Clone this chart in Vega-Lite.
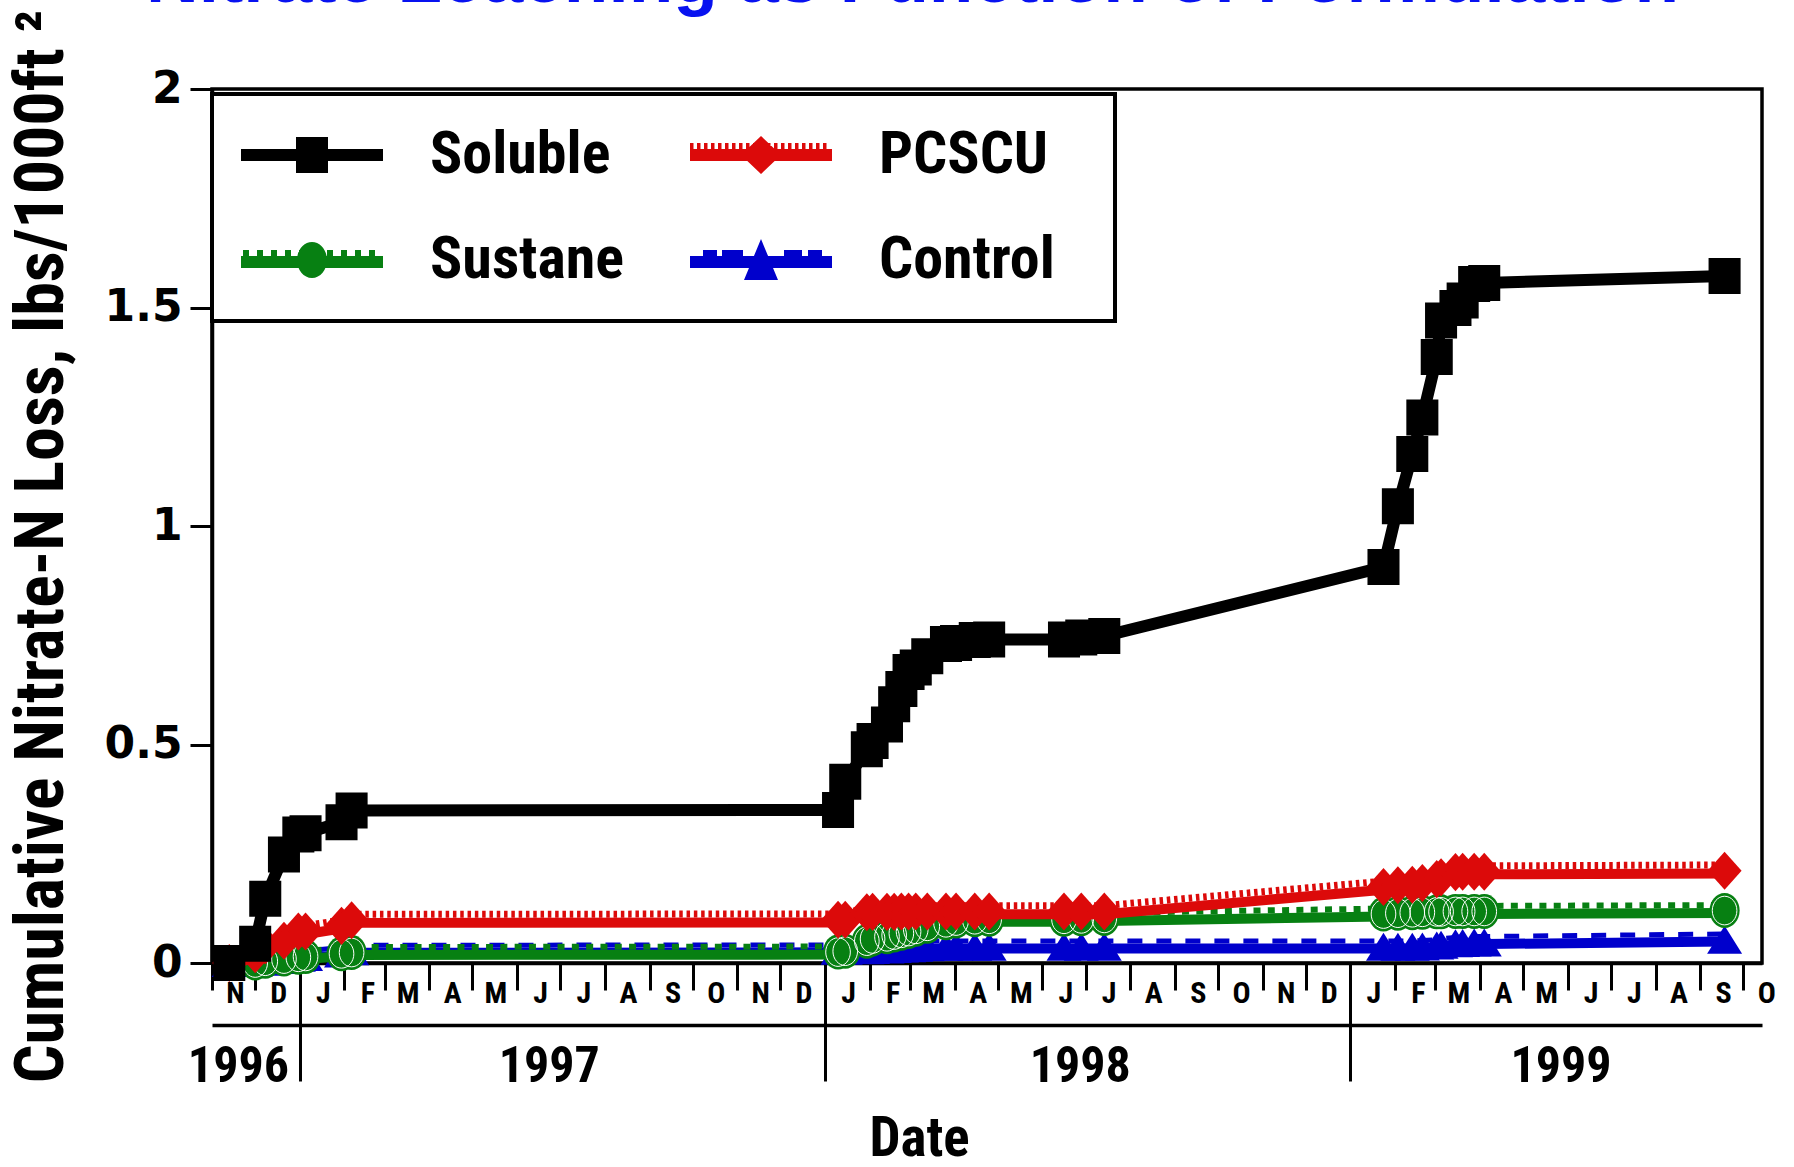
{
  "$schema": "https://vega.github.io/schema/vega-lite/v6.json",
  "width": 1550,
  "height": 874,
  "autosize": {"type": "none"},
  "padding": {"left": 212, "top": 89, "right": 32, "bottom": 204},
  "background": "white",
  "config": {
    "view": {"stroke": "black", "strokeWidth": 3.5},
    "axis": {"grid": false, "domainColor": "black", "tickColor": "black", "labelColor": "black", "titleColor": "black"},
    "legend": {"strokeWidth": 4}
  },
  "data": {"values": [
    {"date":"1996-11-13","series":"Soluble","value":0},
    {"date":"1996-12-01","series":"Soluble","value":0.044},
    {"date":"1996-12-08","series":"Soluble","value":0.147},
    {"date":"1996-12-21","series":"Soluble","value":0.248},
    {"date":"1996-12-31","series":"Soluble","value":0.294},
    {"date":"1997-01-05","series":"Soluble","value":0.297},
    {"date":"1997-01-30","series":"Soluble","value":0.322},
    {"date":"1997-02-06","series":"Soluble","value":0.349},
    {"date":"1998-01-10","series":"Soluble","value":0.35},
    {"date":"1998-01-15","series":"Soluble","value":0.415},
    {"date":"1998-01-30","series":"Soluble","value":0.489},
    {"date":"1998-02-03","series":"Soluble","value":0.508},
    {"date":"1998-02-13","series":"Soluble","value":0.546},
    {"date":"1998-02-18","series":"Soluble","value":0.592},
    {"date":"1998-02-23","series":"Soluble","value":0.627},
    {"date":"1998-02-28","series":"Soluble","value":0.666},
    {"date":"1998-03-05","series":"Soluble","value":0.676},
    {"date":"1998-03-13","series":"Soluble","value":0.702},
    {"date":"1998-03-26","series":"Soluble","value":0.73},
    {"date":"1998-04-02","series":"Soluble","value":0.732},
    {"date":"1998-04-15","series":"Soluble","value":0.739},
    {"date":"1998-04-25","series":"Soluble","value":0.74},
    {"date":"1998-06-16","series":"Soluble","value":0.74},
    {"date":"1998-06-28","series":"Soluble","value":0.745},
    {"date":"1998-07-14","series":"Soluble","value":0.748},
    {"date":"1999-01-24","series":"Soluble","value":0.906},
    {"date":"1999-02-03","series":"Soluble","value":1.045},
    {"date":"1999-02-13","series":"Soluble","value":1.165},
    {"date":"1999-02-20","series":"Soluble","value":1.248},
    {"date":"1999-03-02","series":"Soluble","value":1.387},
    {"date":"1999-03-05","series":"Soluble","value":1.47},
    {"date":"1999-03-15","series":"Soluble","value":1.499},
    {"date":"1999-03-20","series":"Soluble","value":1.516},
    {"date":"1999-03-28","series":"Soluble","value":1.554},
    {"date":"1999-04-04","series":"Soluble","value":1.556},
    {"date":"1999-09-18","series":"Soluble","value":1.572},
    {"date":"1996-11-13","series":"PCSCU","value":0},
    {"date":"1996-12-01","series":"PCSCU","value":0.02},
    {"date":"1996-12-08","series":"PCSCU","value":0.04},
    {"date":"1996-12-21","series":"PCSCU","value":0.051},
    {"date":"1996-12-31","series":"PCSCU","value":0.072},
    {"date":"1997-01-05","series":"PCSCU","value":0.072},
    {"date":"1997-01-30","series":"PCSCU","value":0.085},
    {"date":"1997-02-06","series":"PCSCU","value":0.098},
    {"date":"1998-01-10","series":"PCSCU","value":0.099},
    {"date":"1998-01-15","series":"PCSCU","value":0.099},
    {"date":"1998-01-30","series":"PCSCU","value":0.116},
    {"date":"1998-02-03","series":"PCSCU","value":0.117},
    {"date":"1998-02-13","series":"PCSCU","value":0.117},
    {"date":"1998-02-18","series":"PCSCU","value":0.117},
    {"date":"1998-02-23","series":"PCSCU","value":0.118},
    {"date":"1998-02-28","series":"PCSCU","value":0.118},
    {"date":"1998-03-05","series":"PCSCU","value":0.118},
    {"date":"1998-03-13","series":"PCSCU","value":0.118},
    {"date":"1998-03-26","series":"PCSCU","value":0.118},
    {"date":"1998-04-02","series":"PCSCU","value":0.118},
    {"date":"1998-04-15","series":"PCSCU","value":0.118},
    {"date":"1998-04-25","series":"PCSCU","value":0.118},
    {"date":"1998-06-16","series":"PCSCU","value":0.118},
    {"date":"1998-06-28","series":"PCSCU","value":0.118},
    {"date":"1998-07-14","series":"PCSCU","value":0.118},
    {"date":"1999-01-24","series":"PCSCU","value":0.174},
    {"date":"1999-02-03","series":"PCSCU","value":0.178},
    {"date":"1999-02-13","series":"PCSCU","value":0.179},
    {"date":"1999-02-20","series":"PCSCU","value":0.183},
    {"date":"1999-03-02","series":"PCSCU","value":0.192},
    {"date":"1999-03-05","series":"PCSCU","value":0.196},
    {"date":"1999-03-15","series":"PCSCU","value":0.208},
    {"date":"1999-03-20","series":"PCSCU","value":0.209},
    {"date":"1999-03-28","series":"PCSCU","value":0.209},
    {"date":"1999-04-04","series":"PCSCU","value":0.209},
    {"date":"1999-09-18","series":"PCSCU","value":0.211},
    {"date":"1996-11-13","series":"Sustane","value":0},
    {"date":"1996-12-01","series":"Sustane","value":0},
    {"date":"1996-12-08","series":"Sustane","value":0.004},
    {"date":"1996-12-21","series":"Sustane","value":0.009},
    {"date":"1996-12-31","series":"Sustane","value":0.013},
    {"date":"1997-01-05","series":"Sustane","value":0.015},
    {"date":"1997-01-30","series":"Sustane","value":0.021},
    {"date":"1997-02-06","series":"Sustane","value":0.024},
    {"date":"1998-01-10","series":"Sustane","value":0.025},
    {"date":"1998-01-15","series":"Sustane","value":0.027},
    {"date":"1998-01-30","series":"Sustane","value":0.05},
    {"date":"1998-02-03","series":"Sustane","value":0.055},
    {"date":"1998-02-13","series":"Sustane","value":0.06},
    {"date":"1998-02-18","series":"Sustane","value":0.064},
    {"date":"1998-02-23","series":"Sustane","value":0.068},
    {"date":"1998-02-28","series":"Sustane","value":0.072},
    {"date":"1998-03-05","series":"Sustane","value":0.077},
    {"date":"1998-03-13","series":"Sustane","value":0.084},
    {"date":"1998-03-26","series":"Sustane","value":0.092},
    {"date":"1998-04-02","series":"Sustane","value":0.096},
    {"date":"1998-04-15","series":"Sustane","value":0.099},
    {"date":"1998-04-25","series":"Sustane","value":0.1},
    {"date":"1998-06-16","series":"Sustane","value":0.1},
    {"date":"1998-06-28","series":"Sustane","value":0.101},
    {"date":"1998-07-14","series":"Sustane","value":0.102},
    {"date":"1999-01-24","series":"Sustane","value":0.112},
    {"date":"1999-02-03","series":"Sustane","value":0.114},
    {"date":"1999-02-13","series":"Sustane","value":0.115},
    {"date":"1999-02-20","series":"Sustane","value":0.116},
    {"date":"1999-03-02","series":"Sustane","value":0.117},
    {"date":"1999-03-05","series":"Sustane","value":0.117},
    {"date":"1999-03-15","series":"Sustane","value":0.118},
    {"date":"1999-03-20","series":"Sustane","value":0.118},
    {"date":"1999-03-28","series":"Sustane","value":0.118},
    {"date":"1999-04-04","series":"Sustane","value":0.118},
    {"date":"1999-09-18","series":"Sustane","value":0.12},
    {"date":"1996-11-13","series":"Control","value":0},
    {"date":"1996-12-01","series":"Control","value":0},
    {"date":"1996-12-08","series":"Control","value":0.003},
    {"date":"1996-12-21","series":"Control","value":0.007},
    {"date":"1996-12-31","series":"Control","value":0.012},
    {"date":"1997-01-05","series":"Control","value":0.014},
    {"date":"1997-01-30","series":"Control","value":0.022},
    {"date":"1997-02-06","series":"Control","value":0.027},
    {"date":"1998-01-10","series":"Control","value":0.028},
    {"date":"1998-01-15","series":"Control","value":0.028},
    {"date":"1998-01-30","series":"Control","value":0.029},
    {"date":"1998-02-03","series":"Control","value":0.03},
    {"date":"1998-02-13","series":"Control","value":0.031},
    {"date":"1998-02-18","series":"Control","value":0.032},
    {"date":"1998-02-23","series":"Control","value":0.033},
    {"date":"1998-02-28","series":"Control","value":0.034},
    {"date":"1998-03-05","series":"Control","value":0.035},
    {"date":"1998-03-13","series":"Control","value":0.036},
    {"date":"1998-03-26","series":"Control","value":0.037},
    {"date":"1998-04-02","series":"Control","value":0.037},
    {"date":"1998-04-15","series":"Control","value":0.037},
    {"date":"1998-04-25","series":"Control","value":0.037},
    {"date":"1998-06-16","series":"Control","value":0.037},
    {"date":"1998-06-28","series":"Control","value":0.037},
    {"date":"1998-07-14","series":"Control","value":0.037},
    {"date":"1999-01-24","series":"Control","value":0.037},
    {"date":"1999-02-03","series":"Control","value":0.037},
    {"date":"1999-02-13","series":"Control","value":0.037},
    {"date":"1999-02-20","series":"Control","value":0.038},
    {"date":"1999-03-02","series":"Control","value":0.04},
    {"date":"1999-03-05","series":"Control","value":0.042},
    {"date":"1999-03-15","series":"Control","value":0.045},
    {"date":"1999-03-20","series":"Control","value":0.046},
    {"date":"1999-03-28","series":"Control","value":0.047},
    {"date":"1999-04-04","series":"Control","value":0.047},
    {"date":"1999-09-18","series":"Control","value":0.053}
  ]},
  "resolve": {"axis": {"x": "independent"}},
  "encoding": {
    "x": {"field": "date", "type": "temporal", "scale": {"type": "utc", "domain": [{"year": 1996, "month": 11, "date": 1, "utc": true}, {"year": 1999, "month": 10, "date": 14, "utc": true}]}, "axis": null},
    "y": {"field": "value", "type": "quantitative", "scale": {"domain": [0, 2]}}
  },
  "layer": [
    {
      "transform": [{"filter": "datum.series === 'Control'"}],
      "mark": {"type": "line", "color": "#0000cc", "strokeWidth": 10, "yOffset": 1.6},
      "encoding": {
        "x": {"field": "date", "type": "temporal", "scale": {"type": "utc", "domain": [{"year": 1996, "month": 11, "date": 1, "utc": true}, {"year": 1999, "month": 10, "date": 14, "utc": true}]},
          "axis": {"orient": "bottom", "tickCount": {"interval": "month", "step": 1}, "tickSize": 27, "tickWidth": 3, "domainWidth": 3.5, "labelExpr": "substring(utcFormat(datum.value, '%b'), 0, 1)", "labelOffset": 23, "labelPadding": -12, "labelFont": "Roboto Condensed, DejaVu Sans Condensed, sans-serif", "labelFontSize": 30, "labelFontWeight": "bold", "labelFlush": false, "labelOverlap": false, "title": "Date", "titleFont": "Roboto Condensed, DejaVu Sans Condensed, sans-serif", "titleFontSize": 55, "titleFontWeight": "bold", "titleX": 707, "titleY": 192, "titleBaseline": "alphabetic", "titleAlign": "center"}},
        "y": {"field": "value", "type": "quantitative", "scale": {"domain": [0, 2]},
          "axis": {"values": [0, 0.5, 1, 1.5, 2], "format": ".1~f", "tickSize": 22, "tickWidth": 3, "domainWidth": 3.5, "labelFont": "DejaVu Sans", "labelFontSize": 44, "labelFontWeight": "bold", "labelPadding": 8, "title": "Cumulative Nitrate-N Loss, lbs/1000ft ²", "titleFont": "Roboto Condensed, DejaVu Sans Condensed, sans-serif", "titleFontSize": 68, "titleFontWeight": "bold", "titleX": -150, "titleY": 457, "titleAngle": 270, "titleAlign": "center", "titleBaseline": "alphabetic"}}
      }
    },
    {
      "transform": [{"filter": "datum.series === 'Control'"}],
      "mark": {"type": "line", "color": "#0000cc", "strokeWidth": 5, "strokeDash": [15, 14], "yOffset": -5.9},
      "encoding": {
        "x": {"field": "date", "type": "temporal", "scale": {"type": "utc", "domain": [{"year": 1996, "month": 11, "date": 1, "utc": true}, {"year": 1999, "month": 10, "date": 14, "utc": true}]},
          "axis": {"orient": "bottom", "offset": 62, "values": [{"year": 1996, "month": 11, "date": 19, "utc": true}, {"year": 1997, "month": 6, "date": 23, "utc": true}, {"year": 1998, "month": 6, "date": 27, "utc": true}, {"year": 1999, "month": 5, "date": 27, "utc": true}], "ticks": false, "tickSize": 0, "domainWidth": 3.5, "labelExpr": "utcFormat(datum.value, '%Y')", "labelPadding": 16, "labelFont": "Roboto Condensed, DejaVu Sans Condensed, sans-serif", "labelFontSize": 50, "labelFontWeight": "bold", "labelFlush": false, "labelOverlap": false, "title": null}}
      }
    },
    {
      "transform": [{"filter": "datum.series === 'Control'"}],
      "mark": {"type": "point", "shape": "M0,-0.8L1,0.8L-1,0.8Z", "size": 1225, "filled": true, "color": "#0000cc", "opacity": 1},
      "encoding": {
        "x": {"field": "date", "type": "temporal", "scale": {"type": "utc", "domain": [{"year": 1996, "month": 11, "date": 1, "utc": true}, {"year": 1999, "month": 10, "date": 14, "utc": true}]},
          "axis": {"orient": "bottom", "offset": 2, "values": [{"year": 1997, "month": 1, "date": 1, "utc": true}, {"year": 1998, "month": 1, "date": 1, "utc": true}, {"year": 1999, "month": 1, "date": 1, "utc": true}], "domain": false, "labels": false, "ticks": true, "tickSize": 116, "tickWidth": 3, "title": null}}
      }
    },
    {
      "transform": [{"filter": "datum.series === 'Sustane'"}],
      "mark": {"type": "line", "color": "#078012", "strokeWidth": 10, "yOffset": 2.5},
      "encoding": {
        "x": {"field": "date", "type": "temporal", "scale": {"type": "utc", "domain": [{"year": 1996, "month": 11, "date": 1, "utc": true}, {"year": 1999, "month": 10, "date": 14, "utc": true}]},
          "axis": {"orient": "top", "domain": false, "ticks": false, "labels": false, "title": "Nitrate Leaching as Function of Formulation", "titleFont": "Liberation Sans, Arial, sans-serif", "titleFontSize": 73, "titleFontWeight": "bold", "titleColor": "#0812f0", "titleX": 700, "titleY": -88, "titleBaseline": "alphabetic", "titleAlign": "center"}}
      }
    },
    {
      "transform": [{"filter": "datum.series === 'Sustane'"}],
      "mark": {"type": "line", "color": "#078012", "strokeWidth": 6, "strokeDash": [7, 7.3], "yOffset": -5.5}
    },
    {
      "transform": [{"filter": "datum.series === 'Sustane'"}],
      "mark": {"type": "point", "shape": "M-0.86,0A0.86,1 0 1,1 0.86,0A0.86,1 0 1,1 -0.86,0Z", "size": 1225, "filled": true, "color": "#078012", "opacity": 1}
    },
    {
      "transform": [{"filter": "datum.series === 'Sustane'"}],
      "mark": {"type": "point", "shape": "M-0.86,0A0.86,1 0 1,1 0.86,0A0.86,1 0 1,1 -0.86,0Z", "size": 820, "filled": false, "color": "white", "strokeWidth": 1, "opacity": 1}
    },
    {
      "transform": [{"filter": "datum.series === 'PCSCU'"}],
      "mark": {"type": "line", "color": "#dc0a0a", "strokeWidth": 10, "yOffset": 2.7}
    },
    {
      "transform": [{"filter": "datum.series === 'PCSCU'"}],
      "mark": {"type": "line", "color": "#dc0a0a", "strokeWidth": 7, "strokeDash": [3.5, 3.8], "yOffset": -5.8}
    },
    {
      "transform": [{"filter": "datum.series === 'PCSCU'"}],
      "mark": {"type": "point", "shape": "M-1,0L0,-1.12L1,0L0,1.12Z", "size": 1156, "filled": true, "color": "#dc0a0a", "opacity": 1}
    },
    {
      "transform": [{"filter": "datum.series === 'Soluble'"}],
      "mark": {"type": "line", "strokeWidth": 12},
      "encoding": {
        "color": {"field": "series", "type": "nominal",
          "scale": {"domain": ["Soluble", "Sustane", "PCSCU", "Control"], "range": ["#000000", "#078012", "#dc0a0a", "#0000cc"]},
          "legend": {"title": null, "orient": "none", "legendX": 0, "legendY": 5, "columns": 2, "padding": 31, "strokeColor": "black", "fillColor": "white", "symbolSize": 1600, "symbolStrokeWidth": 0, "symbolStrokeColor": "transparent", "symbolOpacity": 1, "labelFont": "Roboto Condensed, DejaVu Sans Condensed, sans-serif", "labelFontSize": 60, "labelFontWeight": "bold", "labelColor": "black", "labelOffset": 127, "labelLimit": 500, "rowPadding": 45, "columnPadding": 65,
            "symbolFillColor": {"expr": "datum.value === 'Soluble' ? '#000000' : datum.value === 'PCSCU' ? '#dc0a0a' : datum.value === 'Sustane' ? '#078012' : '#0000cc'"},
            "symbolType": {"expr": "datum.value === 'Soluble' ? 'M-1.6,-0.3H5.5V0.3H-1.6Z M1.15,-0.9H2.75V0.9H1.15Z' : datum.value === 'PCSCU' ? 'M-1.6,-0.3H5.5V0.3H-1.6Z M0.95,0L1.95,-0.95L2.95,0L1.95,0.95Z M-1.6,-0.6h0.175v0.3h-0.175Z M-1.25,-0.6h0.175v0.3h-0.175Z M-0.9,-0.6h0.175v0.3h-0.175Z M-0.55,-0.6h0.175v0.3h-0.175Z M-0.2,-0.6h0.175v0.3h-0.175Z M0.15,-0.6h0.175v0.3h-0.175Z M0.5,-0.6h0.175v0.3h-0.175Z M0.85,-0.6h0.175v0.3h-0.175Z M1.2,-0.6h0.175v0.3h-0.175Z M1.55,-0.6h0.175v0.3h-0.175Z M1.9,-0.6h0.175v0.3h-0.175Z M2.25,-0.6h0.175v0.3h-0.175Z M2.6,-0.6h0.175v0.3h-0.175Z M2.95,-0.6h0.175v0.3h-0.175Z M3.3,-0.6h0.175v0.3h-0.175Z M3.65,-0.6h0.175v0.3h-0.175Z M4,-0.6h0.175v0.3h-0.175Z M4.35,-0.6h0.175v0.3h-0.175Z M4.7,-0.6h0.175v0.3h-0.175Z M5.05,-0.6h0.175v0.3h-0.175Z M18.1,0Z' : datum.value === 'Sustane' ? 'M-1.6,-0.2H5.5V0.4H-1.6Z M1.2,0A0.75,0.9 0 1,1 2.7,0A0.75,0.9 0 1,1 1.2,0Z M-1.5,-0.5h0.3v0.3h-0.3Z M-0.8,-0.5h0.3v0.3h-0.3Z M-0.1,-0.5h0.3v0.3h-0.3Z M0.6,-0.5h0.3v0.3h-0.3Z M1.3,-0.5h0.3v0.3h-0.3Z M2,-0.5h0.3v0.3h-0.3Z M2.7,-0.5h0.3v0.3h-0.3Z M3.4,-0.5h0.3v0.3h-0.3Z M4.1,-0.5h0.3v0.3h-0.3Z M4.8,-0.5h0.3v0.3h-0.3Z' : 'M-1.6,-0.2H5.5V0.4H-1.6Z M1.95,-1.05L2.8,1L1.1,1Z M-0.95,-0.5H-0.25V-0.2H-0.95Z M0,-0.5H1.05V-0.2H0Z M3.1,-0.5H4V-0.2H3.1Z M4.3,-0.5H5V-0.2H4.3Z M18.1,0Z'"}
          }
        }
      }
    },
    {
      "transform": [{"filter": "datum.series === 'Soluble'"}],
      "mark": {"type": "point", "shape": "M-0.89,-1H0.89V1H-0.89Z", "size": 1296, "filled": true, "color": "#000000", "opacity": 1}
    }
  ]
}
